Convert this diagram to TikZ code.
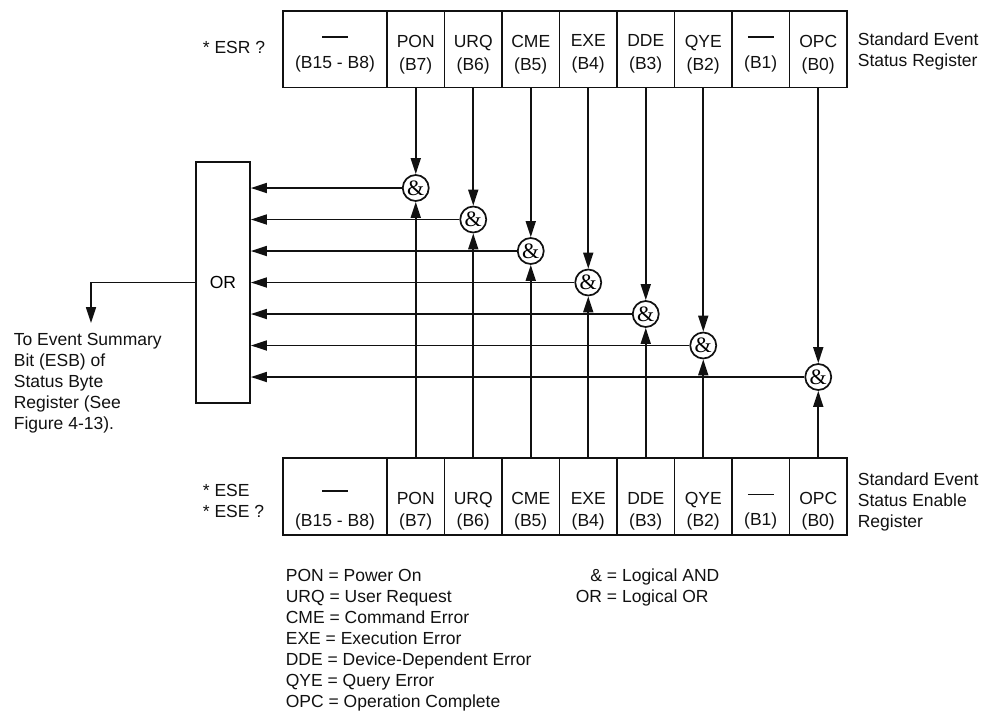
\documentclass[tikz,border=0pt]{standalone}
\usepackage{fontspec}
\setmainfont{Liberation Sans}
\newfontfamily\ampfont{Liberation Serif}
\usetikzlibrary{arrows.meta,positioning,calc}
\definecolor{ink}{HTML}{111111}
\newcommand{\bitdash}{\rule[8pt]{26pt}{1.4pt}}

\begin{document}
\begin{tikzpicture}[
  x=1pt, y=-1pt,
  font=\fontsize{17.5}{21}\selectfont,
  line width=1.7pt,
  cell/.style={
    draw=ink,
    minimum width=57.5pt,
    minimum height=76.5pt,
    inner sep=0pt
  },
  widecell/.style={cell, minimum width=104pt},
  bittext/.style={align=center, inner sep=0pt, text=ink},
  gate/.style={
    draw=ink,
    fill=white,
    circle,
    minimum size=26pt,
    inner sep=0pt,
    font=\ampfont\fontsize{22}{22}\selectfont
  },
  orgate/.style={draw=ink, minimum width=54pt, minimum height=241pt, inner sep=0pt},
  arr/.style={-{Triangle[length=16pt,width=10pt]}, draw=ink},
  note/.style={align=left, inner sep=0pt, text=ink}
]

\useasboundingbox (0,0) rectangle (984,710);

% Standard Event Status Register
\node[widecell] (thi) at (335,49.25) {};
\node[bittext] (thitxt) at ([yshift=-5pt]thi.center) {\bitdash\\[2pt](B15 - B8)};
\node[note, anchor=west] (esrcmd) at (202,47) {* ESR ?};
\node[note, anchor=west] (esrname) at (857,51.5) {Standard Event\\Status Register};

% Standard Event Status Enable Register
\node[widecell] (bhi) at (335,496.5) {};
\node[bittext] (bhitxt) at ([yshift=-14pt]bhi.center) {\bitdash\\[6pt](B15 - B8)};
\node[note, anchor=west] (esecmd) at (202,501) {* ESE\\* ESE ?};
\node[note, anchor=west] (esename) at (857,502) {Standard Event\\Status Enable\\Register};

% bit cells
\foreach \b/\nm [count=\i from 0] in {7/PON,6/URQ,5/CME,4/EXE,3/DDE,2/QYE,1/\bitdash,0/OPC} {
  \node[cell] (t\b) at (415.75+57.5*\i,49.25) {};
  \node[bittext] (t\b txt) at ([yshift=-5pt]t\b.center) {\nm\\[2pt](B\b)};
  \node[cell] (b\b) at (415.75+57.5*\i,496.5) {};
  \node[bittext] (b\b txt) at ([yshift=-15pt]b\b.center) {\nm\\[1pt](B\b)};
}

% OR gate
\node[orgate] (orbox) at (223,282.5) {OR};

% AND gates
\foreach \b/\j in {7/0,6/1,5/2,4/3,3/4,2/5,0/6} {
  \node[gate] (g\b) at (t\b |- 0,188+31.5*\j) {\&};
  \draw[arr] (t\b) -- (g\b);
  \draw[arr] (b\b) -- (g\b);
  \draw[arr] (g\b) -- (g\b -| orbox.east);
}

% Event summary bit
\coordinate (esb) at (91,323);
\draw[arr] (orbox.west) -| (esb);
\node[note, anchor=north west] (esbtext) at (13,332) {To Event Summary\\Bit (ESB) of\\Status Byte\\Register (See\\Figure 4-13).};

% Legend
\node[note, anchor=north west] (abbrev) at (285,568.5) {PON = Power On\\URQ = User Request\\CME = Command Error\\EXE = Execution Error\\DDE = Device-Dependent Error\\QYE = Query Error\\OPC = Operation Complete};
\node[note, anchor=north west] (symbols) at (575,566) {%
  \begin{tabular}{@{}r@{ }l@{}}
    \& & = Logical AND\\
    OR & = Logical OR
  \end{tabular}};

\end{tikzpicture}
\end{document}
